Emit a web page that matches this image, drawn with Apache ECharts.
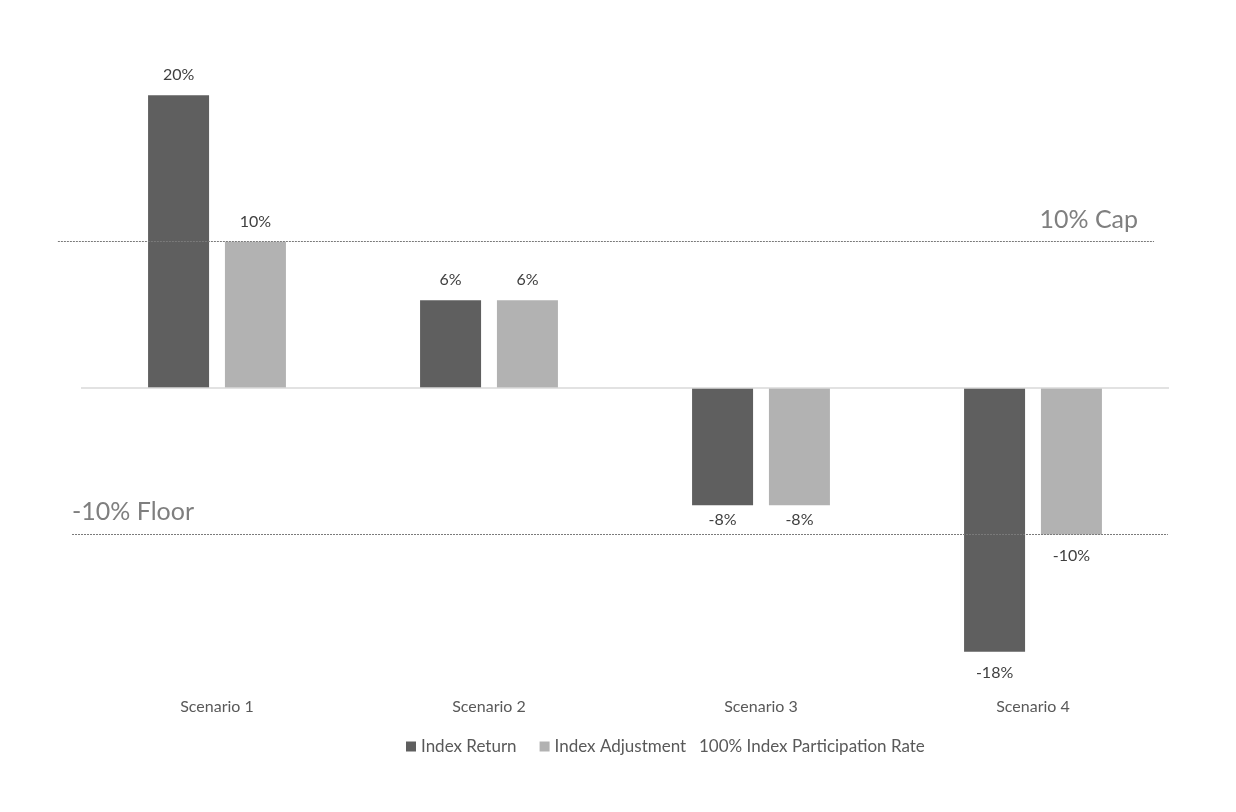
<!DOCTYPE html>
<html>
<head>
<meta charset="utf-8">
<script src="https://cdn.jsdelivr.net/npm/echarts@6/dist/echarts.min.js"></script>
<style>html,body{margin:0;padding:0;background:#fff}#c{width:1236px;height:812px}</style>
</head>
<body>
<div id="c"></div>
<script>
const categories = ['Scenario 1', 'Scenario 2', 'Scenario 3', 'Scenario 4'];
const indexReturn = [0.20, 0.06, -0.08, -0.18];
const indexAdjustment = [0.10, 0.06, -0.08, -0.10];
const capValue = 0.10;
const floorValue = -0.10;
const capLabel = '10% Cap';
const floorLabel = '-10% Floor';
const legendNames = ['Index Return', 'Index Adjustment', '100% Index Participation Rate'];

const FONT = 'Lato, "Open Sans", sans-serif';
const pct = p => Math.round(p.value * 100) + '%';

// layout
const W = 1236, GRID_L = 81, GRID_R = 67, GRID_T = 22, GRID_B = 131;
const Y_MIN = -0.2, Y_MAX = 0.25;
// full-width overlay axis in "category units" so the cap/floor lines can overhang the plot
const band = (W - GRID_L - GRID_R) / categories.length;
const OX_MIN = -0.5 - GRID_L / band;
const OX_MAX = categories.length - 0.5 + GRID_R / band;

function barData(values) {
  return values.map(v => {
    if (v >= 0) return {value: v};
    const inside = v > floorValue;
    return {value: v, label: {position: 'bottom', distance: inside ? 7 : 13}};
  });
}

const barLabel = {show: true, position: 'top', distance: 12, formatter: pct,
  fontSize: 16, color: '#404040', fontFamily: FONT};

const refText = {fontSize: 25, color: '#7f7f7f', fontFamily: FONT};
const refLine = {color: '#7a7a7a', width: 1, type: [2, 1]};

const chart = echarts.init(document.getElementById('c'), null, {renderer: 'canvas'});
chart.setOption({
  animation: false,
  backgroundColor: '#ffffff',
  textStyle: {fontFamily: FONT},
  grid: [
    {left: GRID_L, right: GRID_R, top: GRID_T, bottom: GRID_B, containLabel: false},
    {left: 0, right: 0, top: GRID_T, bottom: GRID_B, containLabel: false}
  ],
  legend: [
    {
      left: 406, top: 738, padding: 0,
      itemWidth: 10, itemHeight: 10, itemGap: 23, itemStyle: {borderWidth: 0},
      textStyle: {fontFamily: FONT, fontSize: 17, color: '#595959'},
      data: [
        {name: legendNames[0], icon: 'rect'},
        {name: legendNames[1], icon: 'rect'}
      ]
    },
    {
      left: 694, top: 738, padding: 0,
      itemWidth: 0, itemHeight: 10,
      textStyle: {fontFamily: FONT, fontSize: 17, color: '#595959'},
      data: [{name: legendNames[2], icon: 'none'}]
    }
  ],
  xAxis: [
    {
      type: 'category', data: categories, gridIndex: 0,
      axisLine: {show: false}, axisTick: {show: false},
      axisLabel: {margin: 18, fontSize: 16, color: '#595959', fontFamily: FONT}
    },
    {type: 'value', gridIndex: 1, min: OX_MIN, max: OX_MAX, show: false}
  ],
  yAxis: [
    {type: 'value', gridIndex: 0, min: Y_MIN, max: Y_MAX, show: false, splitLine: {show: false}},
    {type: 'value', gridIndex: 1, min: Y_MIN, max: Y_MAX, show: false, splitLine: {show: false}}
  ],
  series: [
    {
      name: legendNames[0], type: 'bar', data: barData(indexReturn),
      barWidth: 61, barGap: '26%',
      itemStyle: {color: '#5f5f5f'},
      label: barLabel,
      markLine: {
        silent: true, symbol: 'none', label: {show: false},
        lineStyle: {color: '#d9d9d9', width: 1.5, type: 'solid'},
        data: [{yAxis: 0}]
      }
    },
    {
      name: legendNames[1], type: 'bar', data: barData(indexAdjustment),
      barWidth: 61,
      itemStyle: {color: '#b2b2b2'},
      label: barLabel
    },
    {
      name: legendNames[2], type: 'line', data: [],
      itemStyle: {color: 'rgba(0,0,0,0)'}
    },
    {
      name: 'refs', type: 'line', xAxisIndex: 1, yAxisIndex: 1, silent: true,
      data: [], symbol: 'none',
      markLine: {
        silent: true, symbol: 'none',
        data: [
          [
            {coord: [-0.585, capValue], lineStyle: refLine,
              label: Object.assign({show: true, position: 'insideEndTop', distance: [16, 9],
                formatter: capLabel}, refText)},
            {coord: [3.445, capValue]}
          ],
          [
            {coord: [-0.533, floorValue], lineStyle: refLine,
              label: Object.assign({show: true, position: 'insideStartTop', distance: [0, 10],
                formatter: floorLabel}, refText)},
            {coord: [3.496, floorValue]}
          ]
        ]
      }
    }
  ]
});
</script>
</body>
</html>
